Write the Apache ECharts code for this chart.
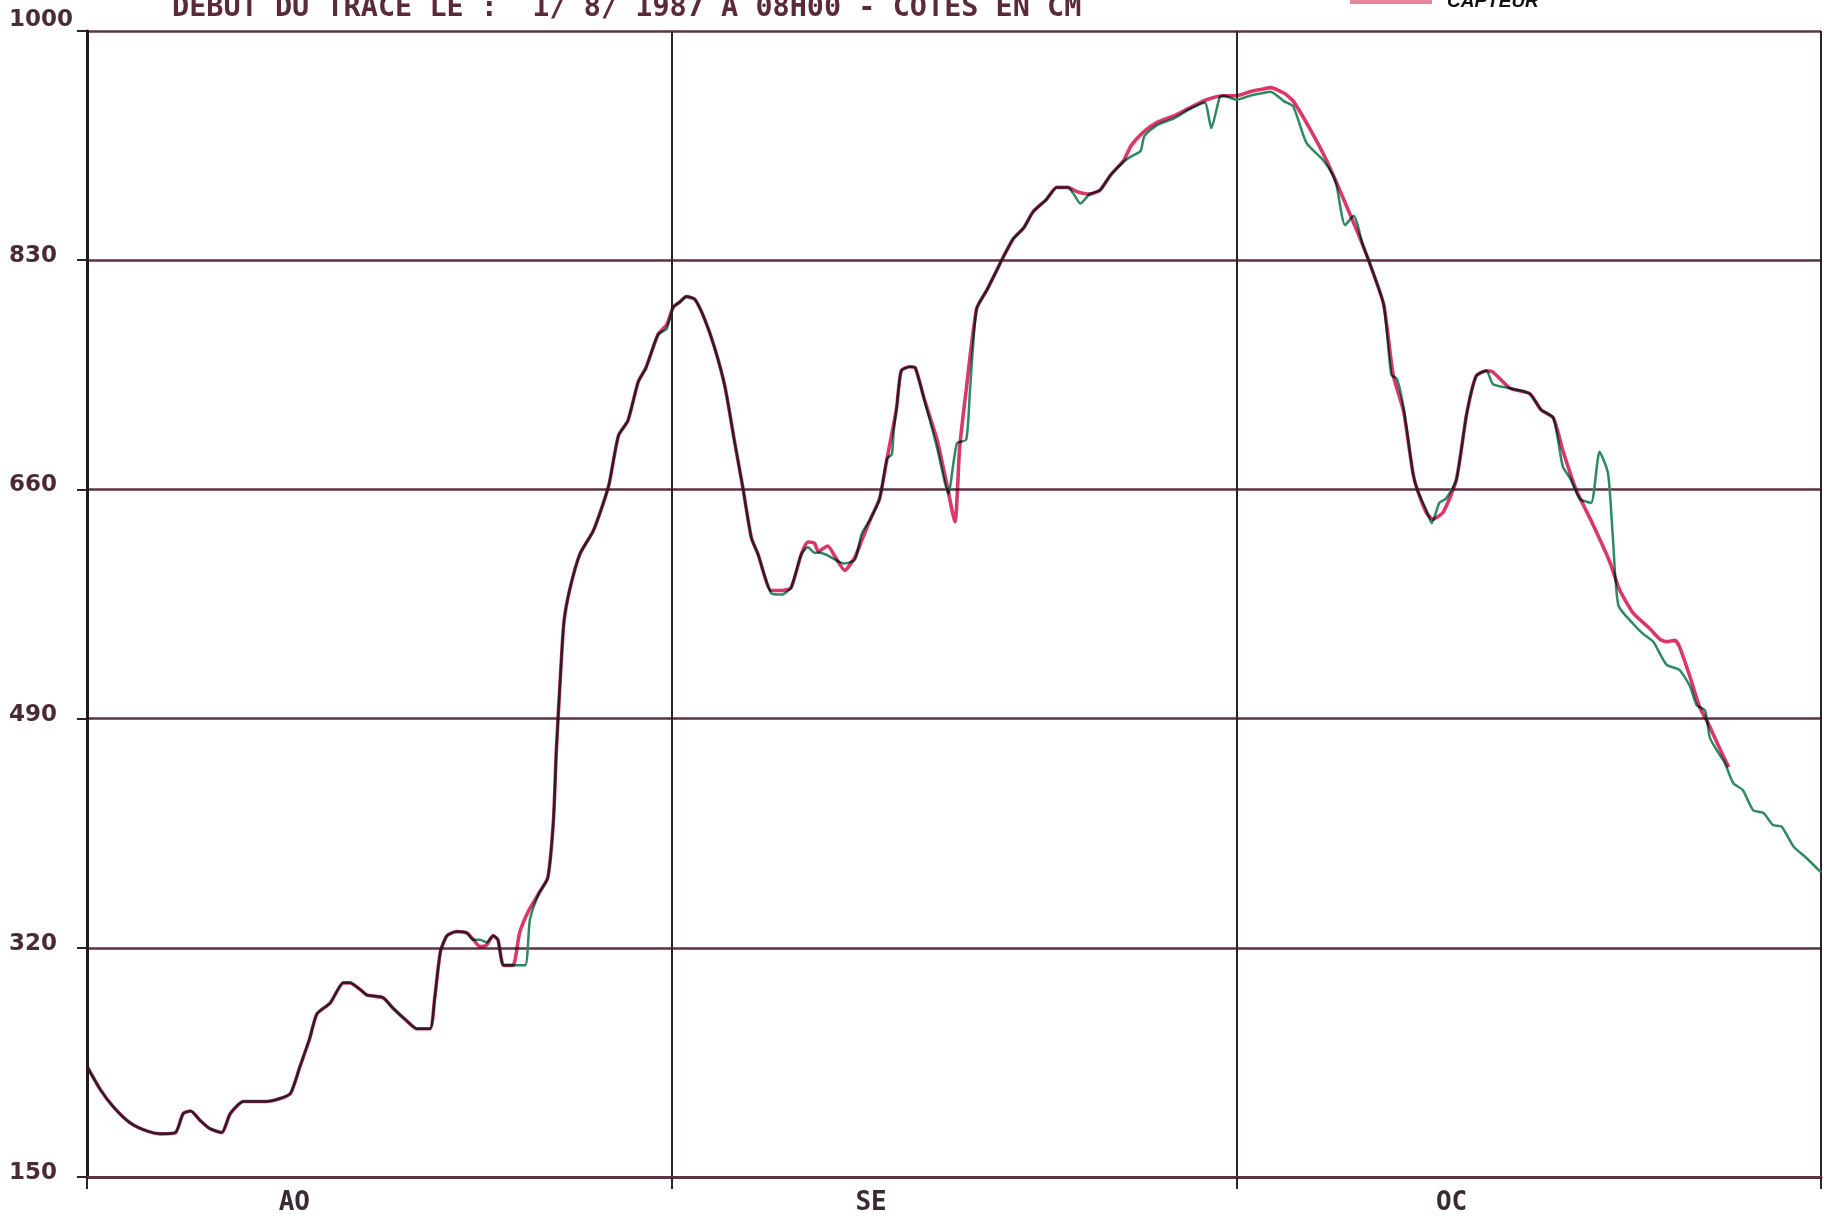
<!DOCTYPE html>
<html><head><meta charset="utf-8">
<script src="https://cdn.jsdelivr.net/npm/echarts@6/dist/echarts.min.js"></script>
<style>html,body{margin:0;padding:0;background:#fff}#c{width:1824px;height:1216px}</style>
</head><body><div id="c"></div>
<script>
const titleText = 'DEBUT DU TRACE LE :  1/ 8/ 1987 A 08H00 - COTES EN CM';
const yTicks = [150, 320, 490, 660, 830, 1000];
const monthBounds = [0, 31, 61, 92];
const monthLabelDays = [11, 41.6, 72.4];
const monthLabels = ['AO', 'SE', 'OC'];
const capteurName = 'CAPTEUR';
const otherName = 'LIMNIGRAPHE';

const capteurDays = [0,0.7,1.4,2.3,3.2,3.9,4.7,5.1,5.5,6.0,6.5,7.15,7.6,8.3,9.5,10.2,10.8,11.3,11.8,12.2,12.9,13.6,13.95,14.5,14.85,15.7,16.25,16.95,17.5,18.2,18.45,18.75,19.1,19.6,20.15,20.5,20.85,21.2,21.55,21.8,22.1,22.6,22.95,23.45,24.0,24.45,24.75,24.9,25.1,25.3,25.6,26.15,26.85,27.35,27.7,28.2,28.7,29.25,29.65,30.3,30.75,31.1,31.45,31.8,32.25,32.75,33.3,33.85,34.35,34.8,35.25,35.6,36.3,36.85,37.35,37.9,38.25,38.6,38.8,39.3,39.7,40.2,40.75,41.1,41.6,42.05,42.45,42.95,43.2,43.65,43.95,44.4,45.1,45.6,46.05,46.3,46.65,47.2,47.75,48.25,48.6,49.15,49.7,50.2,50.9,51.45,52.05,52.5,53.2,53.75,54.3,55.0,55.4,56.05,56.75,57.65,58.5,59.4,60.3,61.0,61.7,62.4,62.8,63.5,64.0,64.9,65.8,66.65,67.55,68.1,68.8,69.3,69.85,70.35,70.6,71.05,71.4,71.95,72.65,73.2,73.7,74.25,74.6,75.5,76.55,77.15,77.8,78.3,79.0,79.9,80.8,81.3,82.05,82.9,83.45,83.8,84.25,84.5,85.05,85.55,86.1,86.65,87.1];
const capteurVals = [232,215,202,190,184,182,183,197,199,192,186,183,197,206,206,208,212,232,252,271,279,294,294,289,285,283,275,266,260,260,283,317,329,332,331,326,321,322,329,326,307,307,331,348,361,372,415,466,517,561,585,612,629,648,664,700,711,740,750,775,782,795,799,803,801,787,765,736,696,661,624,612,585,585,587,612,621,620,614,618,610,600,610,622,639,653,683,720,748,751,750,728,697,665,636,691,734,794,808,822,832,846,854,866,875,884,884,881,879,882,893,904,915,925,932,937,943,949,952,952,955,957,958,954,948,927,903,876,846,826,797,745,718,672,659,643,638,643,667,716,744,748,747,735,731,719,713,689,660,634,606,586,568,557,549,547,548,543,521,499,484,467,454];

const otherDays = [0,0.7,1.4,2.3,3.2,3.9,4.7,5.1,5.5,6.0,6.5,7.15,7.6,8.3,9.5,10.2,10.8,11.3,11.8,12.2,12.9,13.6,13.95,14.5,14.85,15.7,16.25,16.95,17.5,18.2,18.45,18.75,19.1,19.6,20.15,20.5,20.85,21.2,21.55,21.8,22.1,22.6,23.25,23.5,24.0,24.45,24.75,24.9,25.1,25.3,25.6,26.15,26.85,27.35,27.7,28.2,28.7,29.25,29.65,30.3,30.75,31.1,31.45,31.8,32.25,32.75,33.3,33.85,34.35,34.8,35.25,35.6,36.3,36.85,37.35,37.9,38.25,38.6,38.9,39.3,39.8,40.2,40.75,41.1,41.6,42.05,42.45,42.7,42.8,42.95,43.2,43.65,43.95,44.55,45.1,45.7,46.15,46.65,46.85,47.2,47.75,48.25,48.6,49.15,49.7,50.2,50.9,51.45,52.05,52.4,52.7,53.2,53.75,54.3,55.0,55.4,55.9,56.1,56.75,57.65,58.5,59.3,59.65,60.1,60.3,61.0,61.7,62.4,62.8,63.5,64.0,64.7,65.6,66.1,66.3,66.75,67.2,67.7,68.1,68.8,69.2,69.5,69.85,70.35,70.6,71.05,71.35,71.75,72.1,72.65,73.2,73.7,74.25,74.6,75.5,76.55,77.15,77.8,78.3,78.7,79.2,79.8,80.25,80.7,80.95,81.25,82.05,82.55,83.1,83.8,84.5,85.05,85.4,85.85,86.1,86.45,86.9,87.35,87.85,88.4,88.95,89.45,89.9,90.55,91.2,92.0];
const otherVals = [232,215,202,190,184,182,183,197,199,192,186,183,197,206,206,208,212,232,252,271,279,294,294,289,285,283,275,266,260,260,283,317,329,332,331,326,326,324,329,326,307,307,307,341,361,372,415,466,517,561,585,612,629,648,664,700,711,740,750,775,779,795,799,803,801,787,765,736,696,661,624,612,583,582,587,612,617,613,613,611,607,605,608,627,639,653,683,686,703,720,748,751,750,720,691,657,694,697,734,794,808,822,832,846,854,866,875,884,884,878,872,879,882,893,903,907,911,922,930,935,942,947,928,951,952,949,952,954,955,948,944,917,904,893,885,856,863,841,826,797,745,742,721,672,659,645,635,650,653,667,716,744,748,738,735,731,719,713,677,668,653,650,688,672,626,574,560,553,547,530,526,514,500,496,476,467,457,442,437,422,420,411,410,395,387,376];

function pairs(xs, ys) { return xs.map((x, i) => [x, ys[i]]); }

const chart = echarts.init(document.getElementById('c'), null, {renderer: 'canvas'});
chart.setOption({
  animation: false,
  backgroundColor: '#ffffff',
  title: {
    text: titleText,
    left: 172, top: -6, padding: 0,
    textStyle: {fontFamily: 'DejaVu Sans Mono', fontWeight: 'bold', fontSize: 28.5, color: '#5a2a3a'}
  },
  legend: {
    data: [capteurName],
    left: 1350, top: -8, padding: 0,
    icon: 'rect', itemWidth: 82, itemHeight: 5,
    itemStyle: {color: '#e8849c'},
    textStyle: {fontFamily: 'Liberation Sans', fontStyle: 'italic', fontWeight: 'bold', fontSize: 19, color: '#111', padding: [0, 0, 0, 10]}
  },
  grid: {left: 87, right: 3, top: 31, bottom: 39, containLabel: false},
  xAxis: {
    type: 'value', min: 0, max: 92,
    axisLine: {show: true, onZero: false, lineStyle: {color: '#5b3344', width: 3}},
    axisTick: {show: true, customValues: monthBounds, length: 12, lineStyle: {color: '#2e2428', width: 2}},
    axisLabel: {
      customValues: monthLabelDays, margin: 13,
      fontFamily: 'DejaVu Sans Mono', fontWeight: 'bold', fontSize: 26, color: '#3a2a33',
      formatter: function (v) {
        let best = 0;
        for (let i = 1; i < monthLabelDays.length; i++) {
          if (Math.abs(monthLabelDays[i] - v) < Math.abs(monthLabelDays[best] - v)) best = i;
        }
        return monthLabels[best];
      }
    },
    splitLine: {show: true, lineStyle: {color: '#2e2428', width: 2}}
  },
  yAxis: {
    type: 'value', min: 150, max: 1000,
    axisLine: {show: true, onZero: false, lineStyle: {color: '#1e1a1c', width: 3}},
    axisTick: {show: true, customValues: yTicks, length: 10, lineStyle: {color: '#2e2428', width: 2}},
    axisLabel: {
      customValues: yTicks, margin: 78, align: 'left',
      fontFamily: 'DejaVu Sans', fontWeight: 'bold', fontSize: 23, color: '#4a2a36',
      padding: [0, 0, 8, 0],
      formatter: function (v) { return v === 1000 ? '{top|' + v + '}' : String(v); },
      rich: {top: {fontFamily: 'DejaVu Sans', fontWeight: 'bold', fontSize: 23, color: '#4a2a36', padding: [0, 0, 14, 0]}}
    },
    splitLine: {show: true, lineStyle: {color: '#5b3344', width: 2.5}}
  },
  series: [
    {
      name: otherName, type: 'line', showSymbol: false, smooth: 0.2, data: pairs(otherDays, otherVals),
      lineStyle: {color: '#2e8a5e', width: 2.5}, itemStyle: {color: '#2e8a5e'}, z: 3
    },
    {
      name: capteurName, type: 'line', showSymbol: false, smooth: 0.2, data: pairs(capteurDays, capteurVals),
      lineStyle: {color: '#d8386a', width: 3.6}, itemStyle: {color: '#d8386a'}, z: 4,
      blendMode: 'multiply'
    }
  ]
});
</script>
</body></html>
